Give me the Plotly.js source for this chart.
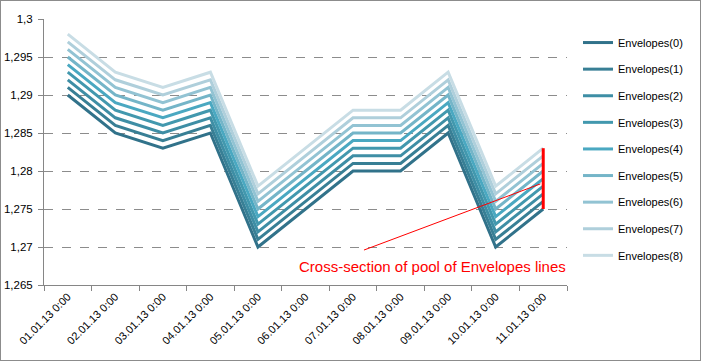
<!DOCTYPE html>
<html><head><meta charset="utf-8">
<script src="https://cdn.plot.ly/plotly-3.0.1.min.js"></script>
<style>body{margin:0;padding:0;background:#fff}#c{width:701px;height:361px;box-sizing:border-box;border:1px solid #8c8c8c}</style>
</head><body><div id="c"></div>
<script>
const categories = ['01.01.13 0:00','02.01.13 0:00','03.01.13 0:00','04.01.13 0:00','05.01.13 0:00','06.01.13 0:00','07.01.13 0:00','08.01.13 0:00','09.01.13 0:00','10.01.13 0:00','11.01.13 0:00'];
const env0 = [1.290,1.285,1.283,1.285,1.270,1.275,1.280,1.280,1.285,1.270,1.275];
const env1 = [1.291,1.286,1.284,1.286,1.271,1.276,1.281,1.281,1.286,1.271,1.276];
const env2 = [1.292,1.287,1.285,1.287,1.272,1.277,1.282,1.282,1.287,1.272,1.277];
const env3 = [1.293,1.288,1.286,1.288,1.273,1.278,1.283,1.283,1.288,1.273,1.278];
const env4 = [1.294,1.289,1.287,1.289,1.274,1.279,1.284,1.284,1.289,1.274,1.279];
const env5 = [1.295,1.290,1.288,1.290,1.275,1.280,1.285,1.285,1.290,1.275,1.280];
const env6 = [1.296,1.291,1.289,1.291,1.276,1.281,1.286,1.286,1.291,1.276,1.281];
const env7 = [1.297,1.292,1.290,1.292,1.277,1.282,1.287,1.287,1.292,1.277,1.282];
const env8 = [1.298,1.293,1.291,1.293,1.278,1.283,1.288,1.288,1.293,1.278,1.283];
const seriesNames = ['Envelopes(0)','Envelopes(1)','Envelopes(2)','Envelopes(3)','Envelopes(4)','Envelopes(5)','Envelopes(6)','Envelopes(7)','Envelopes(8)'];
const seriesColors = ['#31728a','#387f95','#3e8ea5','#4298ae','#4aa8c1','#74b5c8','#92c3d3','#afcfdb','#c8dde5'];
const yTickVals = [1.265,1.27,1.275,1.28,1.285,1.29,1.295,1.3];
const yTickText = ['1,265','1,27','1,275','1,28','1,285','1,29','1,295','1,3'];
const crossCategory = 10;
const crossRange = [1.275,1.283];
const annotationText = 'Cross-section of pool of Envelopes lines';
const pointerFrom = [6.23,1.2696];
const pointerTo = [9.94,1.2783];
const labelPos = [7.67,1.2674];

const all = [env0,env1,env2,env3,env4,env5,env6,env7,env8];
const traces = all.map((v,i)=>({
  type:'scatter',mode:'lines',x:categories,y:v,name:seriesNames[i],
  legendgroup:'g'+i,
  line:{color:seriesColors[i],width:3}
}));
const layout = {
  width:699,height:359,
  margin:{l:43,r:130,t:18,b:75},
  paper_bgcolor:'#fff',plot_bgcolor:'#fff',
  font:{family:'Liberation Sans, Arial, sans-serif',size:11,color:'#000'},
  showlegend:true,
  legend:{x:1.021,xanchor:'left',xref:'paper',y:0.966,yanchor:'top',tracegroupgap:7.6,
    font:{size:11,color:'#000'},itemwidth:30,bgcolor:'rgba(0,0,0,0)'},
  xaxis:{type:'category',categoryorder:'array',categoryarray:categories,
    range:[-0.5,10.5],tickson:'boundaries',ticks:'outside',ticklen:5,tickcolor:'#868686',
    showline:true,linecolor:'#868686',linewidth:1,showgrid:false,tickangle:-45,
    tickfont:{size:11,color:'#000'},zeroline:false,fixedrange:true},
  yaxis:{range:[1.265,1.3],tickvals:yTickVals,ticktext:yTickText,ticks:'outside',ticklen:5,
    tickcolor:'#868686',showline:true,linecolor:'#868686',linewidth:1,ticklabelstandoff:3,
    showgrid:true,gridcolor:'#8c8c8c',griddash:'dash',gridwidth:1,zeroline:false,
    tickfont:{size:11.5,color:'#000'},fixedrange:true},
  shapes:[
    {type:'line',xref:'x',yref:'y',x0:crossCategory,x1:crossCategory,y0:crossRange[0],y1:crossRange[1],
      line:{color:'#ff0000',width:3}},
    {type:'line',xref:'x',yref:'y',x0:pointerFrom[0],y0:pointerFrom[1],x1:pointerTo[0],y1:pointerTo[1],
      line:{color:'#ff0000',width:1}}
  ],
  annotations:[{xref:'x',yref:'y',x:labelPos[0],y:labelPos[1],text:annotationText,showarrow:false,
    font:{size:15,color:'#ff0000',family:'Liberation Sans, Arial, sans-serif'}}]
};
Plotly.newPlot('c',traces,layout,{displayModeBar:false,staticPlot:true});
</script></body></html>
